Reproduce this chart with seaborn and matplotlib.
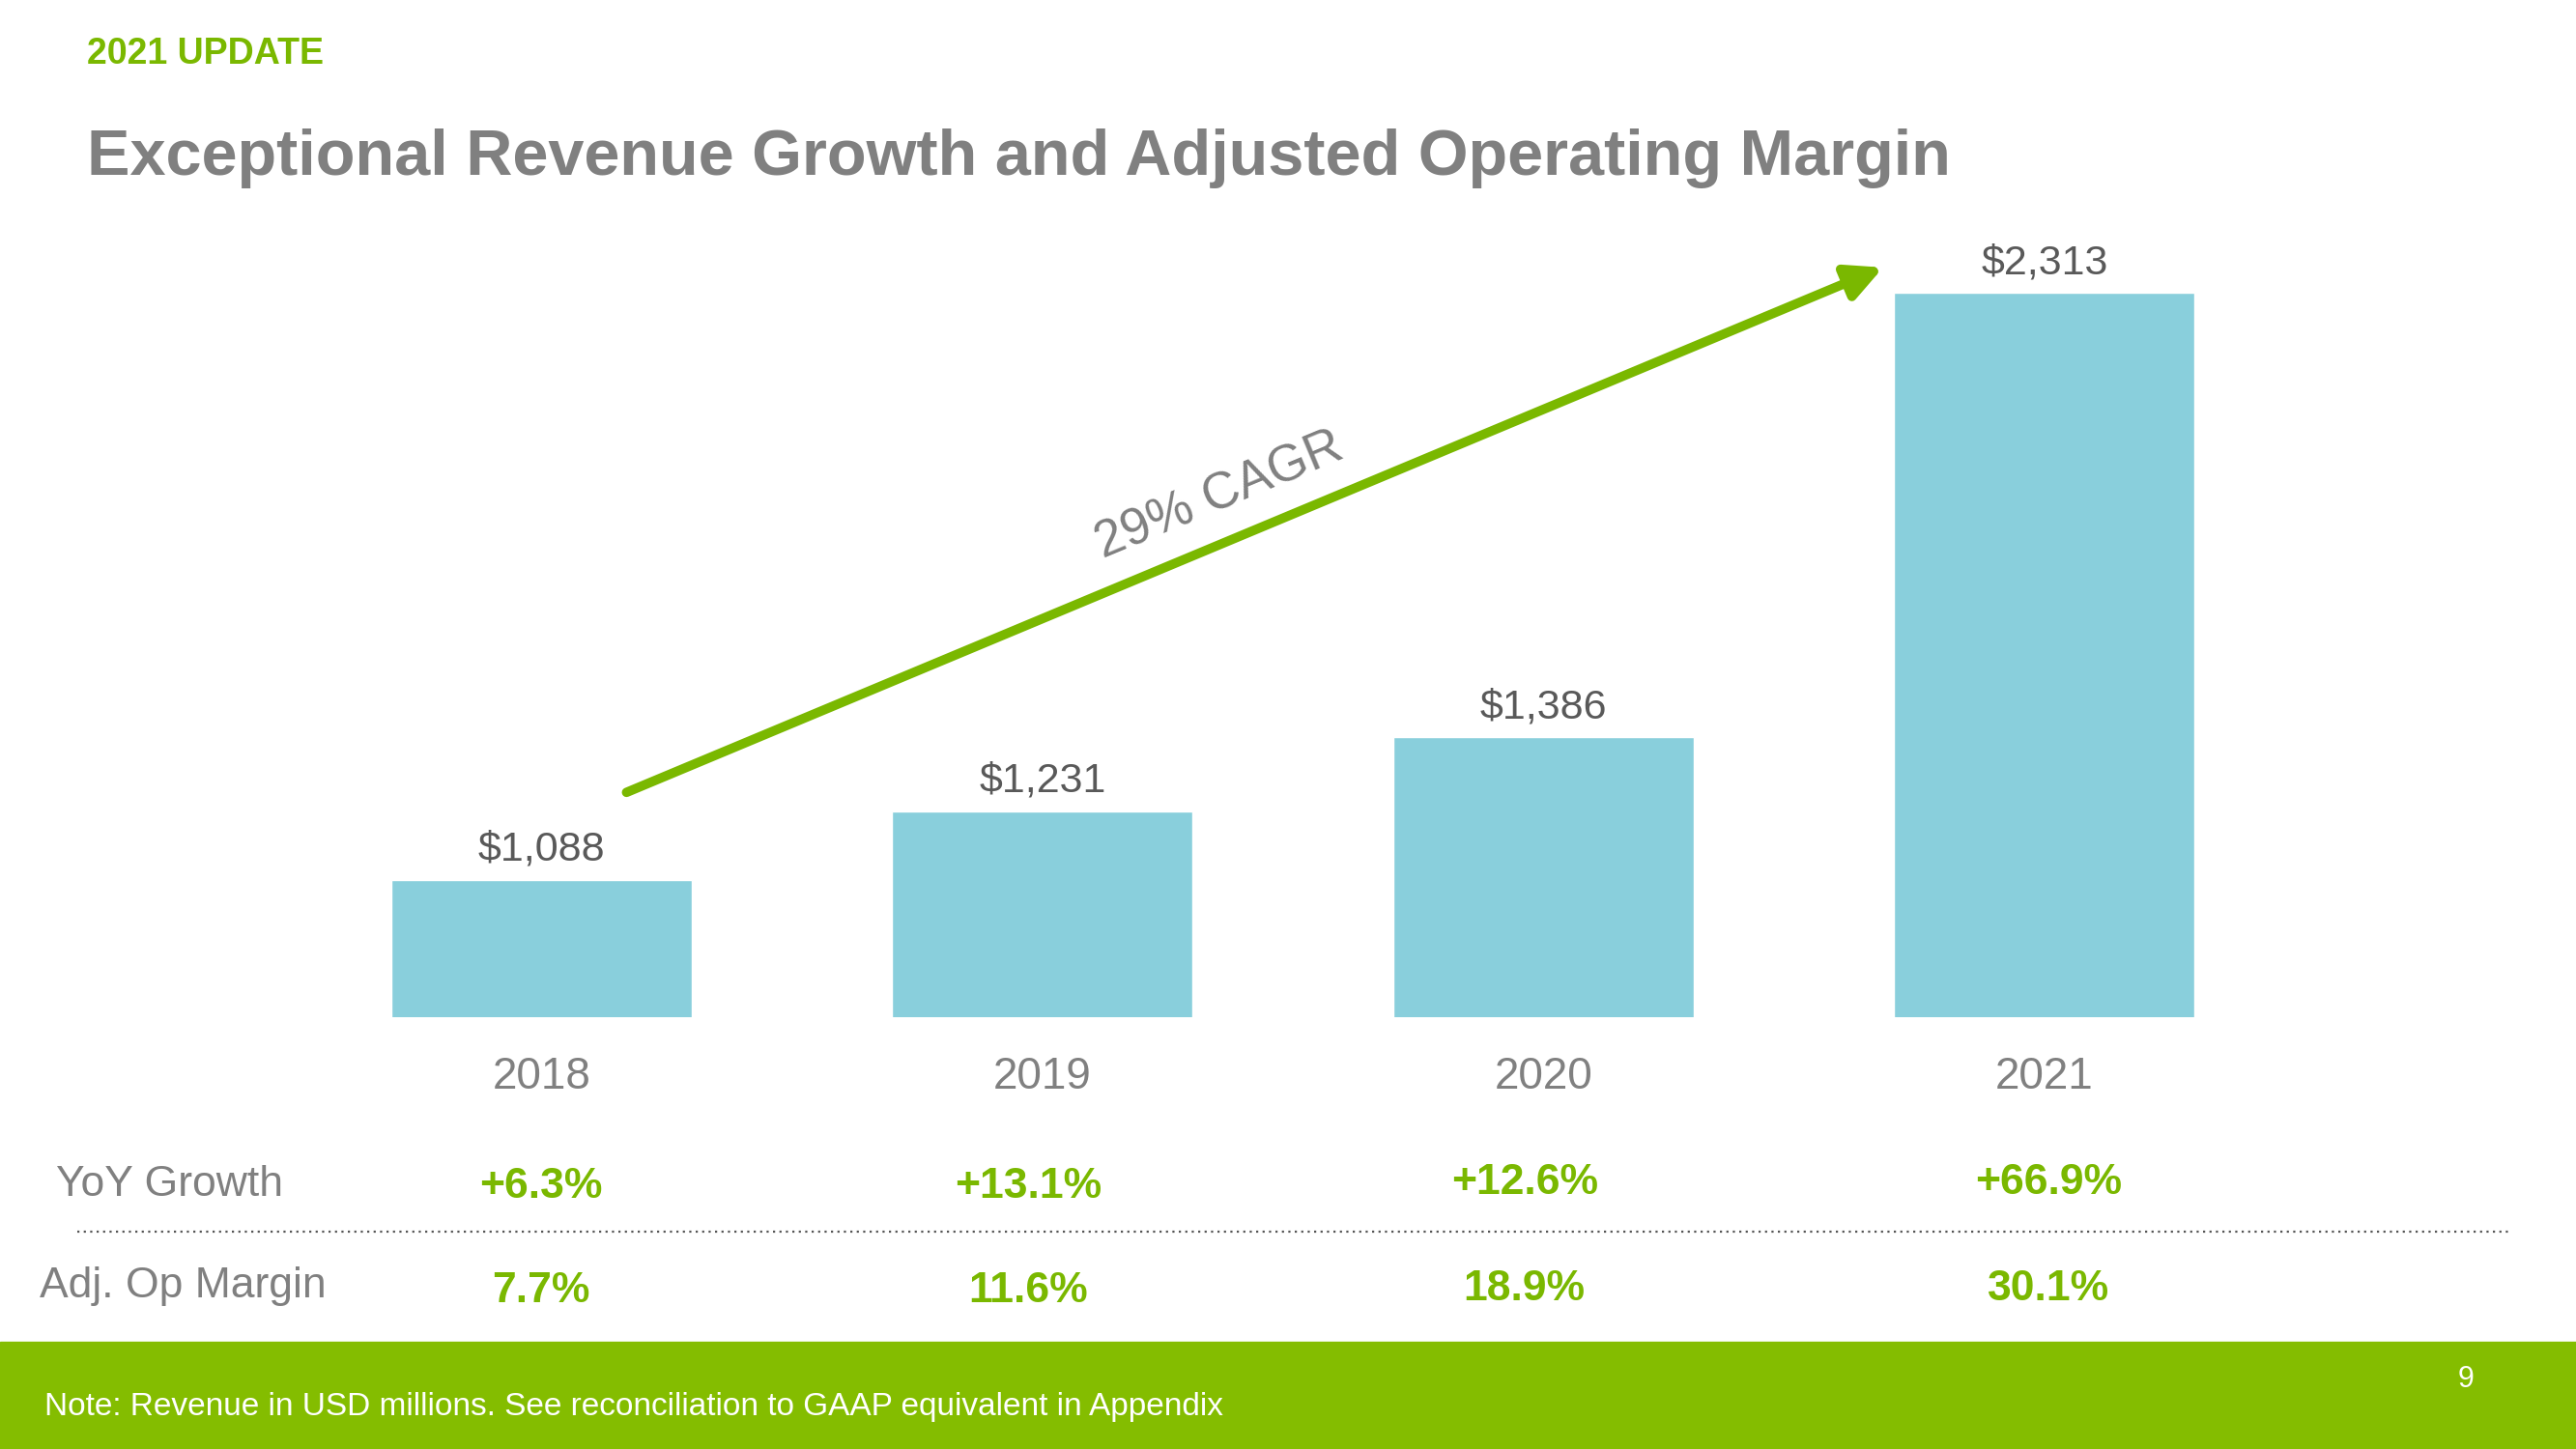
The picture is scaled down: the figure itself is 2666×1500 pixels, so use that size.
import matplotlib
matplotlib.use("Agg")
import matplotlib.pyplot as plt
import matplotlib.transforms as mtransforms
import seaborn as sns
import pandas as pd

# data
years = ["2018", "2019", "2020", "2021"]
revenue = [1088, 1231, 1386, 2313]
yoy_growth = ["+6.3%", "+13.1%", "+12.6%", "+66.9%"]
op_margin = ["7.7%", "11.6%", "18.9%", "30.1%"]
cagr_label = "29% CAGR"

GREEN = "#7AB800"
FOOT_GREEN = "#84BD00"
BAR = "#89CFDC"
GRAY = "#808080"
DARK = "#595959"

sns.set_theme(style="white")
plt.rcParams["font.family"] = ["Liberation Sans", "DejaVu Sans"]

df = pd.DataFrame({"year": years, "revenue": revenue})

fig = plt.figure(figsize=(26.66, 15), dpi=100)
ax = fig.add_axes([0.1129, 0.298, 0.778, 0.5687])

sns.barplot(data=df, x="year", y="revenue", color=BAR, width=0.6,
            saturation=1, ax=ax)
ax.set_xlim(-0.5, 3.5)
ax.set_ylim(802, 2521)
sns.despine(ax=ax, left=True, bottom=True)
ax.set_yticks([])
ax.set_xlabel("")
ax.set_ylabel("")
ax.tick_params(axis="x", length=0, pad=29, labelsize=33, labelcolor=GRAY)

for c in ax.containers:
    ax.bar_label(c, labels=[f"${v:,.0f}" for v in revenue], padding=8,
                 fontsize=31, color=DARK)

# growth arrow + CAGR text
ax.annotate("", xy=(2.678, 2366), xytext=(0.17, 1271),
            arrowprops=dict(arrowstyle="-|>", lw=7, color=GREEN,
                            mutation_scale=55, shrinkA=0, shrinkB=0),
            annotation_clip=False)
ax.text(1.354, 1890, cagr_label, rotation=22.6, rotation_mode="anchor",
        ha="center", va="center", fontsize=38, color=GRAY)

# header
fig.text(0.0338, 1 - 56 / 1500, "2021 UPDATE", fontsize=27, fontweight="bold",
         color=GREEN, va="center", ha="left")
fig.text(0.0338, 1 - 164 / 1500,
         "Exceptional Revenue Growth and Adjusted Operating Margin",
         fontsize=48, fontweight="bold", color=GRAY, va="center", ha="left")

# metric rows below the bars (small nudges follow the slide's text boxes)
nudge = [0.0, -0.028, -0.038, 0.008]
trans = mtransforms.blended_transform_factory(ax.transData, fig.transFigure)
fig.text(58 / 2666, 1 - 1226 / 1500, "YoY Growth", fontsize=32, color=GRAY,
         va="center", ha="left")
fig.text(41 / 2666, 1 - 1332 / 1500, "Adj. Op Margin", fontsize=32, color=GRAY,
         va="center", ha="left")
for i, (g, m) in enumerate(zip(yoy_growth, op_margin)):
    dy = 3 if i >= 2 else 0
    fig.text(i + nudge[i], 1 - (1228 - dy) / 1500, g, transform=trans,
             fontsize=32, fontweight="bold", color=GREEN, ha="center", va="center")
    fig.text(i + nudge[i], 1 - (1337 - dy) / 1500, m, transform=trans,
             fontsize=32, fontweight="bold", color=GREEN, ha="center", va="center")

fig.add_artist(plt.Line2D([80 / 2666, 2596 / 2666], [1 - 1275 / 1500] * 2,
                          transform=fig.transFigure, color="#555555",
                          lw=1.6, linestyle=(0, (1, 2))))

# footer band
fig.add_artist(plt.Rectangle((0, 0), 1, 111 / 1500, transform=fig.transFigure,
                             color=FOOT_GREEN, zorder=0))
fig.text(46 / 2666, 1 - 1456 / 1500,
         "Note: Revenue in USD millions. See reconciliation to GAAP equivalent in Appendix",
         fontsize=24, color="white", va="center", ha="left")
fig.text(2552 / 2666, 1 - 1428 / 1500, "9", fontsize=22, color="white",
         va="center", ha="center")

fig.savefig("out.png", dpi=100, facecolor="white")
